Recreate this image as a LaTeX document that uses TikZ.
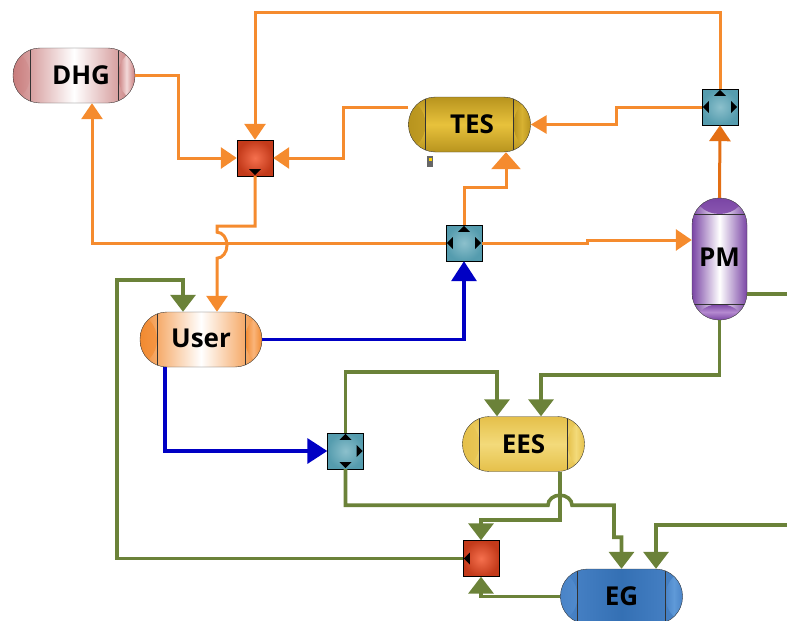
\documentclass[tikz,border=0pt]{standalone}
\usepackage{fontspec}
\setmainfont{Open Sans}
\usetikzlibrary{positioning,calc,arrows.meta}
\definecolor{oline}{HTML}{F58B2E}
\definecolor{dline}{HTML}{E36F14}
\definecolor{gline}{HTML}{6B8239}
\definecolor{bline}{HTML}{0000C4}
\definecolor{dhgedge}{HTML}{C87C7C}
\definecolor{dhgcap}{HTML}{F3D8D8}
\definecolor{tesedge}{HTML}{B8941E}
\definecolor{tesmid}{HTML}{E8C23C}
\definecolor{tescap}{HTML}{D8B232}
\definecolor{useredge}{HTML}{F28A30}
\definecolor{usercap}{HTML}{F9B57A}
\definecolor{eesedge}{HTML}{E5C04A}
\definecolor{eesmid}{HTML}{F3DA7A}
\definecolor{egedge}{HTML}{4A84C8}
\definecolor{egmid}{HTML}{3470B4}
\definecolor{egcap}{HTML}{5F9AD8}
\definecolor{pmedge}{HTML}{7A45A5}
\definecolor{pmcap}{HTML}{B58AD0}
\definecolor{valin}{HTML}{8CC0CC}
\definecolor{valout}{HTML}{559CAE}
\definecolor{redin}{HTML}{F5704E}
\definecolor{redout}{HTML}{C33A1A}
\tikzset{
	tank/.style 2 args={draw=black!75,rounded corners=27pt,minimum width=122pt,minimum height=55pt,inner sep=0pt,font=\fontsize{26}{26}\selectfont\bfseries,
		path picture={
			\shade[left color=#1,right color=#1,middle color=#2] (path picture bounding box.north west) rectangle ($(path picture bounding box.south west)+(17pt,0)$);
			\shade[left color=#1,right color=#1,middle color=#2] (path picture bounding box.north east) rectangle ($(path picture bounding box.south east)+(-17pt,0)$);
			\draw[black!80] ($(path picture bounding box.north west)+(17pt,0)$)--($(path picture bounding box.south west)+(17pt,0)$);
			\draw[black!80] ($(path picture bounding box.north east)+(-17pt,0)$)--($(path picture bounding box.south east)+(-17pt,0)$);}},
	vtank/.style 2 args={draw=black!75,rounded corners=27pt,minimum width=55pt,minimum height=122pt,inner sep=0pt,font=\fontsize{26}{26}\selectfont\bfseries,
		path picture={
			\shade[top color=#1,bottom color=#1,middle color=#2] (path picture bounding box.north west) rectangle ($(path picture bounding box.north east)+(0,-16pt)$);
			\shade[top color=#1,bottom color=#1,middle color=#2] (path picture bounding box.south west) rectangle ($(path picture bounding box.south east)+(0,16pt)$);
			\draw[black!80] ($(path picture bounding box.north west)+(0,-16pt)$)--($(path picture bounding box.north east)+(0,-16pt)$);
			\draw[black!80] ($(path picture bounding box.south west)+(0,16pt)$)--($(path picture bounding box.south east)+(0,16pt)$);}},
	block/.style={draw=black,minimum width=36pt,minimum height=36pt,inner sep=0pt},
	teal/.style={block,inner color=valin,outer color=valout},
	red/.style={block,inner color=redin,outer color=redout},
	oflow/.style={draw=oline,line width=3pt,-{Triangle[width=21pt,length=16pt]}},
	gflow/.style={draw=gline,line width=3.6pt,-{Triangle[width=25pt,length=17pt]}},
	bflow/.style={draw=bline,line width=3.4pt,-{Triangle[width=25pt,length=20pt]}},
}
\newcommand{\tipN}[1]{\fill[black] ($(#1.north)+(-6pt,-7pt)$)--($(#1.north)+(6pt,-7pt)$)--($(#1.north)+(0,-1pt)$)--cycle;}
\newcommand{\tipS}[1]{\fill[black] ($(#1.south)+(-6pt,7pt)$)--($(#1.south)+(6pt,7pt)$)--($(#1.south)+(0,1pt)$)--cycle;}
\newcommand{\tipE}[1]{\fill[black] ($(#1.east)+(-7pt,6pt)$)--($(#1.east)+(-7pt,-6pt)$)--($(#1.east)+(-1pt,0)$)--cycle;}
\newcommand{\tipW}[1]{\fill[black] ($(#1.west)+(7pt,6pt)$)--($(#1.west)+(7pt,-6pt)$)--($(#1.west)+(1pt,0)$)--cycle;}
\begin{document}
\begin{tikzpicture}[x=1pt,y=-1pt]
	\useasboundingbox (0,0) rectangle (787,621);
	\clip (0,0) rectangle (787,621);
	\coordinate (egr) at (787,525);
	\coordinate (pmr) at (787,294);

	\node[tank={dhgedge}{dhgcap},left color=dhgedge,right color=dhgedge,middle color=white] (dhg) at (74,75.5) {\hspace*{14pt}DHG};
	\node[tank={tesedge}{tescap},top color=tesedge,bottom color=tesedge,middle color=tesmid] (tes) at (469.5,124.5) {\hspace*{5pt}TES};
	\node[tank={useredge}{usercap},left color=useredge,right color=useredge,middle color=white] (user) at (201,339.5) {\raisebox{2pt}{User}};
	\node[tank={eesedge}{eesmid},top color=eesedge,bottom color=eesedge,middle color=eesmid] (ees) at (523.5,444) {EES};
	\node[tank={egedge}{egcap},left color=egedge,right color=egedge,middle color=egmid] (eg) at (621.5,596.5) {EG};
	\node[vtank={pmedge}{pmcap},left color=pmedge,right color=pmedge,middle color=white] (pm) at (719.5,259) {\raisebox{3pt}{PM}};

	\node[red] (red1) at (255,158) {};
	\node[red] (red2) at (481,558.5) {};
	\node[teal] (val1) at (720,107) {};
	\node[teal] (val2) at (464,243) {};
	\node[teal] (val3) at (345.5,451) {};
	\tipS{red1}
	\tipW{red2}
	\tipN{val1}\tipW{val1}\tipE{val1}
	\tipN{val2}\tipW{val2}\tipE{val2}
	\tipN{val3}\tipS{val3}\tipE{val3}

	% orange lines
	\draw[oflow] (dhg.east)--++(43,0)|-(red1.west);
	\draw[oflow] (val1.north)--++(0,-76)-|(red1.north);
	\draw[oflow] ([yshift=17.5pt]tes.west)--++(-65,0)|-(red1.east);
	\draw[oflow,-{Triangle[width=18pt,length=16pt]}] (val1.west)--++(-85,0)|-(tes.east);
	\draw[oflow,draw=dline] (pm.north)--(val1.south);
	\draw[oflow] (red1.south)--++(0,50)--++(-38,0)--++(0,6) arc[start angle=90,end angle=-90,x radius=10pt,y radius=13pt]--([xshift=16pt]user.north);
	\draw[oflow] (val2.west)-|([xshift=18pt]dhg.south);
	\draw[oflow,-{Triangle[width=29pt,length=17pt]}] (val2.north)--++(0,-37)-|([xshift=36.5pt]tes.south);
	\draw[oflow] (val2.east)--++(105,0)--++(0,-3)--([yshift=19pt]pm.west);

	% blue lines
	\draw[bflow] (user.east)-|(val2.south);
	\draw[bflow] ([xshift=-36pt]user.south)|-(val3.west);

	% green lines
	\draw[gflow,-] ([yshift=-35pt]pm.east)--(pmr);
	\draw[gflow] (pm.south)--++(0,55)-|([xshift=17.5pt]ees.north);
	\draw[gflow] (val3.north)--++(0,-61)-|([xshift=-26.5pt]ees.north);
	\draw[gflow] (val3.south)--++(0,36)--++(202.5,0) arc[start angle=180,end angle=0,x radius=12pt,y radius=10pt]--++(42,0)--++(0,32)--++(7.5,0)--(eg.north);
	\draw[gflow] ([xshift=36.5pt]ees.south)--++(0,48)-|(red2.north);
	\draw[gflow] (red2.west)-|(117,280)-|([xshift=-18pt]user.north);
	\draw[gflow] (eg.west)-|(red2.south);
	\draw[gflow] (egr)-|([xshift=34.5pt]eg.north);

	% stray cursor mark under the TES vessel
	\node[fill=black!60,inner sep=0pt,minimum width=6pt,minimum height=11pt] (cursor) at (429.5,161) {};
	\node[fill=yellow!70!orange,inner sep=0pt,minimum size=3pt] (cursorb) at (430,159) {};
\end{tikzpicture}
\end{document}
